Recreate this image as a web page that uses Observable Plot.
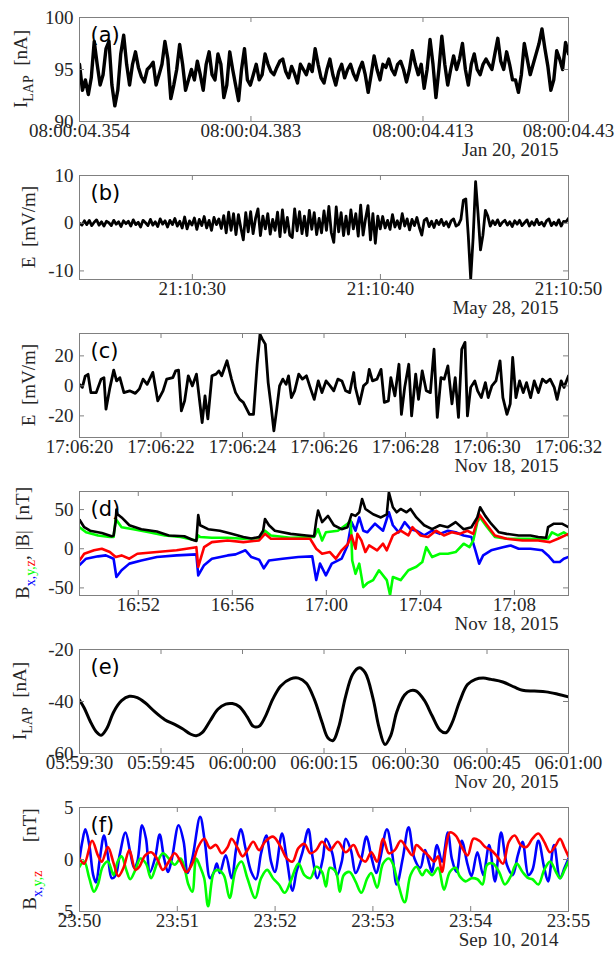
<!DOCTYPE html>
<html><head><meta charset="utf-8">
<script src="https://cdn.jsdelivr.net/npm/d3@7"></script>
<script src="https://cdn.jsdelivr.net/npm/@observablehq/plot@0.6"></script>
<style>body{margin:0;background:#fff}#root svg{display:block}</style>
</head><body><div id="root"></div>
<script>
// ---------- Panel (a): I_LAP, Jan 20 2015 (ms after 08:00:04.354, step 0.5 ms)
const aStep = 0.5;
const aValues = [95.5,93,94,92.6,94.2,97.7,95.5,93.5,94.5,97,97.7,93.5,91.5,93,96.5,98.3,95.5,93.5,95.5,96.7,
95.2,94.3,93.8,95,95.3,95.7,93.5,94.5,95.5,97.7,96,92.2,93.5,95,97.4,95.5,93,94,95,94,
95.8,94.5,93,95.5,96.7,94.5,94,96.5,95.5,92.3,93.5,96.7,95,93.5,92,95,97,94,93.5,94.5,
95.5,94,94.5,96.5,95.5,94.8,94.5,95.2,95.8,96,94.8,94.2,95.3,94.6,93.7,95.5,95,94.5,95.5,94.8,
97,95.5,94.2,93.7,95,96,94.5,93.5,94.8,95.5,94.2,95,95.5,94.6,94,95,95.7,94.5,92.8,94.5,
96.3,95,94,95.5,95.2,96,95,94.5,95.5,95.8,95,93.8,95,96.8,95.5,94.5,95.5,93.2,95,97.9,
95.5,92.3,95,98.2,95.5,93.5,95,96.3,95,96,97.5,95,93.5,95.5,96.5,95,94.5,95.5,96,95.5,
95,96.5,98,95.8,95,96.7,95.5,94,94,92.8,94.5,97.5,96,94.5,95.5,96.5,97.5,98.9,97,95.3,
93,94,96.8,96,95,97.6,96.5];
const aXTicks = [0, 29.1, 58.3, 83];
const aXLabels = ["08:00:04.354", "08:00:04.383", "08:00:04.413", "08:00:04.43"];
const aYTicks = [90, 95, 100];

// ---------- Panel (b): E, May 28 2015 (s after 21:10:00, step 0.13 s from 24 s)
const bStart = 24, bStep = 0.13;
const bValues = [0,-0.4,0.5,-0.3,0.6,-0.5,0.2,0.7,-0.4,0.3,
-0.6,0.4,0.1,-0.5,0.6,-0.2,0.3,-0.7,0.5,-0.1,
0.4,-0.6,0.7,-0.3,0.2,-0.8,0.6,0.1,-0.5,0.8,
-0.4,0.3,-0.7,0.9,-0.2,0.5,-0.8,0.6,-0.3,1.0,
-0.6,0.4,-1.0,1.3,-1.2,0.5,-0.4,1.1,-1.3,0.8,
-0.5,1.4,-1.0,0.6,-1.5,1.2,-0.3,0.9,-1.1,1.6,
-2.0,2.3,-1.5,2.0,-2.4,1.8,-1.0,-3.5,2.2,-1.8,
2.4,-2.2,1.0,3.0,-2.6,1.5,-1.2,2.0,-2.3,0.8,
-1.5,2.3,-2.8,2.8,-1.9,1.2,-2.5,-3.0,3.0,-1.6,
2.4,-2.2,1.5,-2.6,2.7,-1.3,2.2,-2.4,1.0,-2.0,
2.6,-1.5,3.5,-2.0,-4.0,3.4,-1.8,2.2,-2.6,1.5,
-2.3,2.8,-1.2,2.0,-2.7,3.8,-2.5,1.0,3.7,-3.5,
2.0,-4.2,1.5,-1.2,1.4,-1.0,0.6,-1.3,1.8,-0.8,
0.5,-1.1,2.0,-0.6,0.9,-1.4,0.8,-0.5,1.2,-0.9,
-2.5,0.6,1.0,-0.7,0.4,-0.9,0.6,-0.3,0.8,-0.5,
0.3,-0.8,0.5,0.9,-0.6,-0.3,0.8,4.8,5.1,-2.5,
-11.7,-3.0,8.7,2.0,-5.6,-2.5,2.7,1.5,-0.6,0.5,
-0.3,0.7,-0.5,0.2,0.6,-0.4,0.3,-0.7,0.5,-0.2,
0.6,-0.5,0.1,0.7,-0.6,0.3,-0.4,0.8,-0.3,0.2,
-0.6,0.5,0.9,-0.5,0.2,-0.4,0.7,-0.6,0.4,0.3,1.0];
const bXTicks = [30, 40, 50];
const bXLabels = ["21:10:30", "21:10:40", "21:10:50"];
const bYTicks = [-10, 0, 10];

// ---------- Panel (c): E, Nov 18 2015 ([s after 17:06:20, mV/m])
const cData = [[0,1],[0.07,-1],[0.14,6.5],[0.21,7.7],[0.28,-4.5],[0.41,-4.5],[0.53,4.5],[0.60,5.5],[0.65,-15.5],[0.74,-2],
[0.84,10.5],[0.91,3.3],[0.99,5.5],[1.09,-4.5],[1.23,-3.3],[1.37,-5],[1.47,-2],[1.56,4.5],[1.66,1],[1.80,9],
[1.92,-10],[2.05,-3.3],[2.14,4.5],[2.29,5.5],[2.36,10],[2.43,10.5],[2.50,-16.7],[2.58,-10],[2.67,6.7],[2.77,0],
[2.87,7.8],[3.01,-24.4],[3.08,-6.7],[3.15,-22],[3.25,6.7],[3.35,7.8],[3.42,10],[3.49,6.7],[3.62,16.7],[3.73,4.5],
[3.83,-4.5],[3.93,-9],[4.02,-11],[4.17,-19],[4.27,-19],[4.36,14.4],[4.43,34.4],[4.49,31],[4.56,27.8],[4.63,2.2],
[4.70,-13],[4.77,-30],[4.84,-15.5],[4.91,0],[4.99,4.5],[5.07,1],[5.13,6.7],[5.20,-7.8],[5.28,-3.3],[5.38,7.8],
[5.47,4.5],[5.57,6.7],[5.66,-1],[5.76,-9],[5.86,3.3],[5.95,-4.5],[6.05,3.3],[6.15,0],[6.24,-3.3],[6.34,4.5],
[6.44,3.3],[6.53,-3.3],[6.63,-4.5],[6.73,8.9],[6.77,-1],[6.87,-12],[6.97,0],[7.06,2.2],[7.11,11],[7.19,3.3],
[7.30,4.5],[7.40,11],[7.48,-11],[7.58,-10],[7.64,5.5],[7.74,-6.7],[7.84,14.4],[7.90,-19],[7.98,-1],[8.08,14.4],
[8.15,-20],[8.25,7.8],[8.32,-9],[8.41,10],[8.51,-3.3],[8.61,-4.5],[8.70,24.4],[8.78,-21],[8.87,5.5],[8.95,4.5],
[9.04,13.3],[9.14,-12],[9.22,5.5],[9.30,-21],[9.38,24.4],[9.46,29],[9.52,-20],[9.60,-1],[9.70,3.3],[9.77,-3.3],
[9.86,-7.8],[9.96,2.2],[10.03,-7.8],[10.12,0],[10.22,3.3],[10.32,16.7],[10.39,-7.8],[10.49,-19],[10.57,-12],[10.63,18.9],
[10.71,-7.8],[10.80,3.3],[10.89,-4.5],[10.97,2.2],[11.07,-7.8],[11.16,3.3],[11.26,-4.5],[11.36,4.5],[11.45,2.2],[11.55,4.5],
[11.65,-1],[11.72,-9],[11.82,3.3],[11.89,-1],[12.00,6.7]];
const cXTicks = [0, 2, 4, 6, 8, 10, 12];
const cXLabels = ["17:06:20","17:06:22","17:06:24","17:06:26","17:06:28","17:06:30","17:06:32"];
const cYTicks = [-20, 0, 20];

// ---------- Panel (d): B, Nov 18 2015 ([minutes after 16:00, nT])
const dBx = [[49.50,-21],[49.78,-12.7],[50.29,-9.7],[50.62,-8.5],[50.95,-12.7],[51.07,-36],[51.29,-27.5],[51.62,-19],[52.13,-15],[52.79,-10.6],
[53.63,-8.5],[54.47,-7.2],[54.55,-34],[54.80,-21],[55.13,-12.7],[55.80,-8.5],[56.14,-7.2],[56.56,-2],[56.81,-10.6],[57.14,-14],
[57.34,-25],[57.56,-15],[58.14,-12.7],[58.81,-10.6],[59.40,-9.7],[59.57,-40],[59.73,-19],[59.98,-34],[60.23,-19],[60.65,-12.7],
[60.90,4.2],[61.07,34],[61.24,23],[61.40,40],[61.57,23],[61.74,21],[62.07,32],[62.41,23],[62.66,46.6],[62.83,30],
[63.08,21],[63.33,34],[63.58,25],[63.83,23],[64.16,17],[64.50,23],[64.83,19],[65.17,23],[65.50,21],[65.84,17],
[66.17,15],[66.34,-2],[66.50,-19],[66.67,-8.5],[67.01,-2],[67.51,2],[67.84,4.2],[68.18,0],[68.68,0],[69.18,-2],
[69.43,-8.5],[69.68,-17],[69.93,-17],[70.10,-12.7],[70.30,-10.6]];
const dBy = [[49.50,27.5],[49.78,21],[50.29,17],[50.79,15],[50.95,15],[51.04,38],[51.29,27.5],[51.79,25],[52.46,21],[53.13,17],
[53.80,15],[54.47,10.6],[54.55,17],[54.63,15],[55.13,14],[55.80,14],[56.47,12.7],[57.14,13.5],[57.39,23],[57.64,17],
[58.48,14],[59.48,15],[59.65,25],[59.82,10.6],[59.98,21],[60.49,23],[60.90,32],[61.04,36],[61.10,-15],[61.24,-32],
[61.40,-19],[61.57,-49],[61.74,-44],[61.99,-40],[62.24,-27.5],[62.57,-40],[62.71,-59],[62.83,-36],[63.16,-40],[63.49,-27.5],
[63.83,-23],[64.08,-17],[64.25,2],[64.50,-10.6],[64.83,-6.4],[65.17,-6.4],[65.50,-4.2],[65.84,6.4],[66.09,2],[66.25,10.6],
[66.42,34],[66.54,40],[66.84,27.5],[67.17,15],[67.67,12.7],[68.34,12.7],[69.01,12.7],[69.43,12.7],[69.60,21],[69.85,17],
[70.10,21],[70.30,17]];
const dBz = [[49.50,-15],[49.70,-6.4],[50.12,-2],[50.45,0],[50.79,-4.2],[51.04,-10.6],[51.29,-8.5],[51.62,-12.7],[51.96,-6.4],[52.79,-4.2],
[53.63,-2],[54.47,2],[54.55,-23],[54.80,2],[55.13,8.5],[55.80,10.6],[56.47,8.5],[57.14,10.6],[57.39,19],[57.64,12.7],
[58.48,12.7],[59.31,12.7],[59.57,0],[59.82,-6.4],[60.15,-4.2],[60.40,-12.7],[60.65,-2],[60.90,5.5],[61.07,17],[61.24,0],
[61.32,19],[61.49,10.6],[61.66,-4.2],[61.82,4.2],[62.16,-2],[62.41,6.4],[62.57,-2],[62.83,17],[63.16,23],[63.49,17],
[63.66,27.5],[64.00,17],[64.33,15],[64.66,23],[65.00,17],[65.33,21],[65.67,19],[66.00,23],[66.25,19],[66.50,44],
[66.84,30],[67.17,17],[67.67,12.7],[68.34,10.6],[69.01,10.6],[69.51,8.5],[69.85,12.7],[70.30,19]];
const dBt = [[49.50,37],[49.70,27.5],[49.95,23],[50.45,20],[50.87,16],[50.95,17],[51.04,35],[51.07,50],[51.12,44],[51.29,40],
[51.62,30],[52.13,25],[52.79,22],[53.30,17],[53.96,16],[54.30,11.5],[54.47,10],[54.55,43],[54.63,30],[54.97,25],
[55.47,23],[55.97,19],[56.47,15],[56.81,13],[57.14,15],[57.31,23],[57.39,38],[57.56,30],[57.81,23],[58.48,19],
[59.15,17],[59.48,16],[59.57,36],[59.65,48.7],[59.82,34],[60.07,42],[60.32,30],[60.65,25],[60.90,27.5],[61.07,44],
[61.24,42],[61.40,46.6],[61.52,63.5],[61.66,50.8],[61.99,44],[62.32,40],[62.57,44],[62.66,72],[62.83,53],[62.99,46.6],
[63.16,50.8],[63.41,46.6],[63.58,50.8],[63.83,40],[64.16,30],[64.50,25],[64.83,30],[65.17,27.5],[65.50,34],[65.84,25],
[66.17,27.5],[66.42,40],[66.54,53],[66.76,42],[67.01,32],[67.34,21],[67.67,19],[68.18,17],[68.68,17],[69.01,15],
[69.35,14],[69.43,27.5],[69.68,32],[70.02,32],[70.30,27.5]];
const dXTicks = [52, 56, 60, 64, 68];
const dXLabels = ["16:52","16:56","17:00","17:04","17:08"];
const dYTicks = [-50, 0, 50];

// ---------- Panel (e): I_LAP, Nov 20 2015 ([s after 05:59:30, nA])
const eData = [[0,-39.4],[0.87,-42.5],[1.95,-47.5],[3.04,-51.5],[3.98,-53],[4.99,-50.5],[6.29,-44],[7.74,-39.7],[9.19,-38],[10.64,-38.5],
[12.08,-40.5],[13.89,-44],[15.70,-47],[17.51,-48.8],[18.96,-50.5],[20.40,-52.5],[21.49,-53.2],[22.57,-52],[24.02,-47.5],[25.47,-43],
[26.91,-41],[28.14,-40.8],[29.45,-42],[30.89,-46],[31.98,-49.5],[33.06,-49.5],[34.15,-46],[35.60,-39],[37.04,-34],[38.85,-31.3],
[40.30,-31],[41.75,-33],[43.19,-39],[44.64,-48],[45.73,-54],[46.67,-55],[47.68,-50],[48.98,-38],[50.28,-29.5],[51.51,-27],
[52.60,-29],[54.04,-39],[55.13,-50],[56.22,-56.5],[57.30,-53],[58.39,-44],[59.83,-37.5],[60.92,-35.8],[62.00,-36],[63.45,-39.5],
[64.90,-45.5],[66.34,-51],[67.43,-52],[68.51,-48.5],[69.96,-40],[71.41,-33.5],[72.86,-31.5],[74.30,-31],[75.75,-31.5],[77.92,-32.5],
[80.09,-34.5],[81.54,-35.7],[83.71,-36],[85.88,-36.3],[88.05,-37.2],[90,-38.2]];
const eXTicks = [0, 15, 30, 45, 60, 75, 90];
const eXLabels = ["05:59:30","05:59:45","06:00:00","06:00:15","06:00:30","06:00:45","06:01:00"];
const eYTicks = [-60, -40, -20];

// ---------- Panel (f): B, Sep 10 2014 ([s after 23:50, nT])
const fBx = [[0,0],[1.7,1.7],[3.6,2.9],[6.0,1.4],[8.4,-1.5],[10.1,-2.2],[12.5,0.1],[15.0,2.3],[17.4,0.4],[19.8,-1.8],
[22.2,-1.5],[24.6,0.4],[28.2,2.6],[31.1,0.7],[33.5,-0.8],[35.5,-0.2],[38.4,3.3],[40.8,2],[43.2,-1.2],[46.3,0.1],
[49.2,2.4],[51.9,0.1],[54.3,-1.2],[56.7,0.1],[60.8,3.3],[63.9,1.7],[66.3,-1.3],[69.2,0.1],[74.0,4.1],[76.9,1.7],
[80.1,-1.8],[82.5,-1.2],[84.2,-0.4],[86.1,-1.3],[89.7,0.4],[93.3,-1.8],[96.2,1.1],[99.1,2.9],[101.8,1.1],[105.4,-1.2],
[108.3,-1.9],[111.4,0.6],[114.6,2.3],[117.5,-0.2],[119.9,-1.2],[124.2,2.5],[127.1,0.1],[130.7,-3],[133.1,-1.2],[136.8,0.7],
[140.4,2.9],[142.8,0.4],[145.9,-1.8],[149.3,0.1],[151.2,2],[154.9,0.7],[158.0,-1.5],[160.9,-0.2],[163.3,2],[166.5,0.9],
[169.4,-1.3],[172.5,-0.2],[176.1,2.2],[179.0,0.3],[182.1,-1.3],[184.5,0.1],[188.6,2.9],[191.8,0.6],[194.6,-2.4],[198.3,0.1],
[201.9,3.1],[205.5,0.1],[209.1,-0.8],[212.0,0.9],[214.7,-0.5],[216.3,-1.2],[219.3,1.4],[222.4,-0.2],[226.0,2.6],[228.4,0.1],
[231.3,-1.2],[234.5,1.8],[238.1,-0.5],[240.5,-1.6],[244.1,0.7],[247.7,-1.5],[251.3,1.4],[254.9,-2.1],[258.6,2.6],[262.2,-0.5],
[265.8,-1.5],[268.9,0.4],[271.8,1.7],[275.4,-1.5],[277.9,-1],[281.5,1.8],[285.1,-0.8],[287.5,-2.1],[291.1,1.4],[294.8,-1.8],
[297.6,-0.8],[300,0.1]];
const fBy = [[0,-0.7],[2.9,-0.2],[6.0,-1.8],[8.9,-3.1],[11.3,-2.4],[14.2,-0.7],[17.4,-0.2],[21.0,-1.5],[23.4,-0.2],[25.8,0.3],
[28.7,-1],[31.1,-1.9],[34.3,-1],[37.4,0.1],[40.8,-0.4],[43.9,-1.8],[47.5,-0.4],[51.1,0.6],[54.8,0.1],[58.4,-0.5],
[62.0,0.1],[64.4,-0.8],[66.8,-2.4],[69.2,-3.1],[71.6,0.1],[74.0,-0.7],[76.5,-1.8],[78.9,-4.5],[82.5,-1.2],[84.9,-1],
[88.5,-1.5],[92.1,-3.7],[95.8,-1],[99.4,-0.2],[103.0,-1.8],[107.8,-3.7],[111.4,-1.8],[115.1,-1],[118.7,-1.8],[122.3,-2.4],
[125.9,-3.2],[129.5,-2.1],[134.3,-0.4],[138.0,-1.5],[141.6,-1.8],[145.2,-0.7],[148.8,-1.2],[151.2,-2.6],[153.6,-0.8],[157.3,-1.2],
[159.7,-3.1],[162.1,-1.5],[165.7,-1.2],[169.3,-2.1],[172.9,-3.2],[176.6,-1.8],[179.0,-1.3],[182.6,-2.7],[186.2,-0.4],[189.8,0.1],
[192.2,-0.4],[195.1,-2.1],[199.5,-4.1],[203.1,-1.5],[206.7,-0.7],[210.3,-1.5],[212.7,-1],[216.4,-1.5],[220.0,-0.8],[223.6,-2.9],
[227.2,-1.2],[230.8,-0.8],[233.2,-1.6],[236.9,-2.1],[240.5,-1.8],[244.1,-1.9],[247.2,-2.4],[250.1,-0.5],[253.7,-0.4],[257.4,-1.2],
[261.0,-2.4],[264.6,-1.6],[268.2,-0.4],[271.8,-1.2],[275.4,-1.8],[277.9,-1.9],[281.5,-2.4],[285.1,-1],[288.7,-0.2],[292.3,-1.2],
[294.8,-1.8],[297.6,-1],[300,-0.2]];
const fBz = [[0,0.1],[2.9,-0.4],[7.7,1.8],[11.3,0.4],[13.7,-0.2],[17.4,1.2],[21.0,-0.4],[23.9,-1.6],[27.0,-0.8],[30.6,0.9],
[34.3,-1],[36.7,-0.7],[40.3,0.4],[43.9,0.7],[47.5,0.1],[51.1,-1],[54.8,-0.2],[58.4,0.6],[62.0,-0.2],[65.6,-1.2],
[69.2,-0.4],[72.8,1.2],[76.5,2],[80.1,1.1],[83.7,1.4],[87.3,0.6],[90.9,1.2],[93.3,2],[97.0,1.1],[100.1,0.3],
[103.0,0.9],[106.6,1.7],[110.2,0.9],[113.8,1.7],[118.7,2.2],[123.5,1.2],[127.1,0.1],[130.7,-0.2],[134.3,1.1],[138.0,1.5],
[141.6,0.6],[145.2,0.9],[148.8,1.7],[153.6,0.9],[158.5,1.7],[163.3,0.7],[168.1,1.4],[171.7,0.3],[175.4,-0.2],[179.0,0.7],
[182.6,-0.2],[186.2,2],[189.8,0.6],[193.4,0.9],[197.1,1.8],[200.7,1.1],[204.3,0.4],[206.7,1.4],[210.3,0.9],[213.9,0.4],
[217.6,-0.2],[220.0,0.3],[222.4,-1.2],[224.8,1.1],[227.2,2.6],[230.8,2.3],[234.5,1.2],[238.1,0.4],[241.7,2],[245.3,1.8],
[248.9,1.2],[252.5,0.9],[256.2,0.3],[259.8,-0.4],[263.4,1.7],[267.0,2.3],[270.6,1.4],[274.2,1.2],[277.9,2],[281.5,2.5],
[285.1,1.7],[288.7,0.7],[292.3,1.4],[294.8,2],[297.6,1.1],[300,0.3]];
const fXTicks = [0, 60, 120, 180, 240, 300];
const fXLabels = ["23:50","23:51","23:52","23:53","23:54","23:55"];
const fYTicks = [-5, 0, 5];

// ---------- shared drawing
const SERIF = "'Liberation Serif', 'Times New Roman', serif";
const SANS = "'DejaVu Sans', sans-serif";
const INK = "#262626", AX = "#808080";
const BLUE = "#0000ff", GREEN = "#00ff00", RED = "#ff0000", BLACK = "#000000";
const FS = 19;
const W = 616, H = 158, ML = 79, MR = 48, MT = 17, MB = 37;
const IH = H - MT - MB, IW = W - ML - MR;

function pairsSeries(pairs, color, extra = {}) {
  return {xs: pairs.map(p => p[0]), ys: pairs.map(p => p[1]), color, ...extra};
}

function panel(cfg) {
  const marks = [];
  for (const s of cfg.series) {
    const rows = s.ys.map((v, i) => ({x: s.xs[i], y: v}));
    marks.push(Plot.line(rows, {x: "x", y: "y", stroke: s.color, strokeWidth: s.width || 2.6,
      curve: s.curve || "linear", clip: true, strokeLinejoin: "round"}));
  }
  marks.push(
    Plot.frame({stroke: AX, strokeWidth: 1}),
    Plot.tickX(cfg.xTicks, {x: d => d, insetTop: IH - 5, stroke: AX}),
    Plot.tickX(cfg.xTicks, {x: d => d, insetBottom: IH - 5, stroke: AX}),
    Plot.tickY(cfg.yTicks, {y: d => d, insetRight: IW - 5, stroke: AX}),
    Plot.tickY(cfg.yTicks, {y: d => d, insetLeft: IW - 5, stroke: AX}),
    Plot.text(cfg.xTicks, {x: d => d, text: (d, i) => cfg.xLabels[i], frameAnchor: "bottom", dy: 15,
      fontSize: FS, fontFamily: SERIF, fill: INK}),
    Plot.text(cfg.yTicks, {y: d => d, text: d => String(d), frameAnchor: "left", dx: -6, textAnchor: "end",
      fontSize: FS, fontFamily: SERIF, fill: INK}),
    Plot.text([cfg.date], {text: d => d, frameAnchor: "bottom-right", dx: -10, dy: 34, textAnchor: "end",
      fontSize: FS, fontFamily: SERIF, fill: INK}),
    Plot.text([cfg.tag], {text: d => d, frameAnchor: "top-left", dx: 11, dy: 10, textAnchor: "start",
      fontSize: 21, fontFamily: SANS, fill: BLACK})
  );
  const svg = Plot.plot({
    width: W, height: H, marginLeft: ML, marginRight: MR, marginTop: MT, marginBottom: MB,
    x: {domain: cfg.xDomain, axis: null},
    y: {domain: cfg.yDomain, axis: null},
    style: {background: "white", overflow: "visible"},
    marks
  });
  // rotated y-axis title with subscript parts
  const t = d3.select(svg).append("text")
    .attr("transform", `translate(${cfg.labelX},${MT + IH / 2}) rotate(-90)`)
    .attr("text-anchor", "middle")
    .attr("xml:space", "preserve")
    .style("white-space", "pre")
    .style("font-family", SERIF).style("font-size", FS + "px").attr("fill", INK);
  let inSub = false;
  for (const p of cfg.yLabel) {
    const ts = t.append("tspan").text(p.t);
    if (p.sub && !inSub) { ts.attr("dy", 6); inSub = true; }
    else if (!p.sub && inSub) { ts.attr("dy", -6); inSub = false; }
    if (p.sub) ts.style("font-size", "14px");
    if (p.c) ts.attr("fill", p.c);
  }
  return svg;
}

const uniform = (start, step, vals) => vals.map((_, i) => start + i * step);

const panels = [
  {tag: "(a)", date: "Jan 20, 2015", xDomain: [0, 83], yDomain: [90, 100],
   xTicks: aXTicks, xLabels: aXLabels, yTicks: aYTicks, labelX: 27,
   yLabel: [{t: "I"}, {t: "LAP", sub: true}, {t: "  [nA]"}],
   series: [{xs: uniform(0, aStep, aValues), ys: aValues, color: BLACK, width: 3.4}]},
  {tag: "(b)", date: "May 28, 2015", xDomain: [24, 50], yDomain: [-11.8, 10],
   xTicks: bXTicks, xLabels: bXLabels, yTicks: bYTicks, labelX: 35,
   yLabel: [{t: "E  [mV/m]"}],
   series: [{xs: uniform(bStart, bStep, bValues), ys: bValues, color: BLACK, width: 2.8}]},
  {tag: "(c)", date: "Nov 18, 2015", xDomain: [0, 12], yDomain: [-34.4, 34.9],
   xTicks: cXTicks, xLabels: cXLabels, yTicks: cYTicks, labelX: 35,
   yLabel: [{t: "E  [mV/m]"}],
   series: [pairsSeries(cData, BLACK, {width: 2.8})]},
  {tag: "(d)", date: "Nov 18, 2015", xDomain: [49.5, 70.3], yDomain: [-59.7, 73.1],
   xTicks: dXTicks, xLabels: dXLabels, yTicks: dYTicks, labelX: 29,
   yLabel: [{t: "B"}, {t: "x,", sub: true, c: BLUE}, {t: "y,", sub: true, c: GREEN}, {t: "z", sub: true, c: RED}, {t: ", |B|  [nT]"}],
   series: [pairsSeries(dBx, BLUE), pairsSeries(dBy, GREEN), pairsSeries(dBz, RED), pairsSeries(dBt, BLACK)]},
  {tag: "(e)", date: "Nov 20, 2015", xDomain: [0, 90], yDomain: [-60, -20],
   xTicks: eXTicks, xLabels: eXLabels, yTicks: eYTicks, labelX: 26,
   yLabel: [{t: "I"}, {t: "LAP", sub: true}, {t: "  [nA]"}],
   series: [pairsSeries(eData, BLACK, {curve: "catmull-rom", width: 3})]},
  {tag: "(f)", date: "Sep 10, 2014", xDomain: [0, 300], yDomain: [-5, 5],
   xTicks: fXTicks, xLabels: fXLabels, yTicks: fYTicks, labelX: 36,
   yLabel: [{t: "B"}, {t: "x,", sub: true, c: BLUE}, {t: "y,", sub: true, c: GREEN}, {t: "z", sub: true, c: RED}, {t: "      [nT]"}],
   series: [pairsSeries(fBx, BLUE, {curve: "catmull-rom"}), pairsSeries(fBy, GREEN, {curve: "catmull-rom"}), pairsSeries(fBz, RED, {curve: "catmull-rom"})]}
];

const root = document.getElementById("root");
for (const p of panels) root.appendChild(panel(p));
</script>
</body></html>
